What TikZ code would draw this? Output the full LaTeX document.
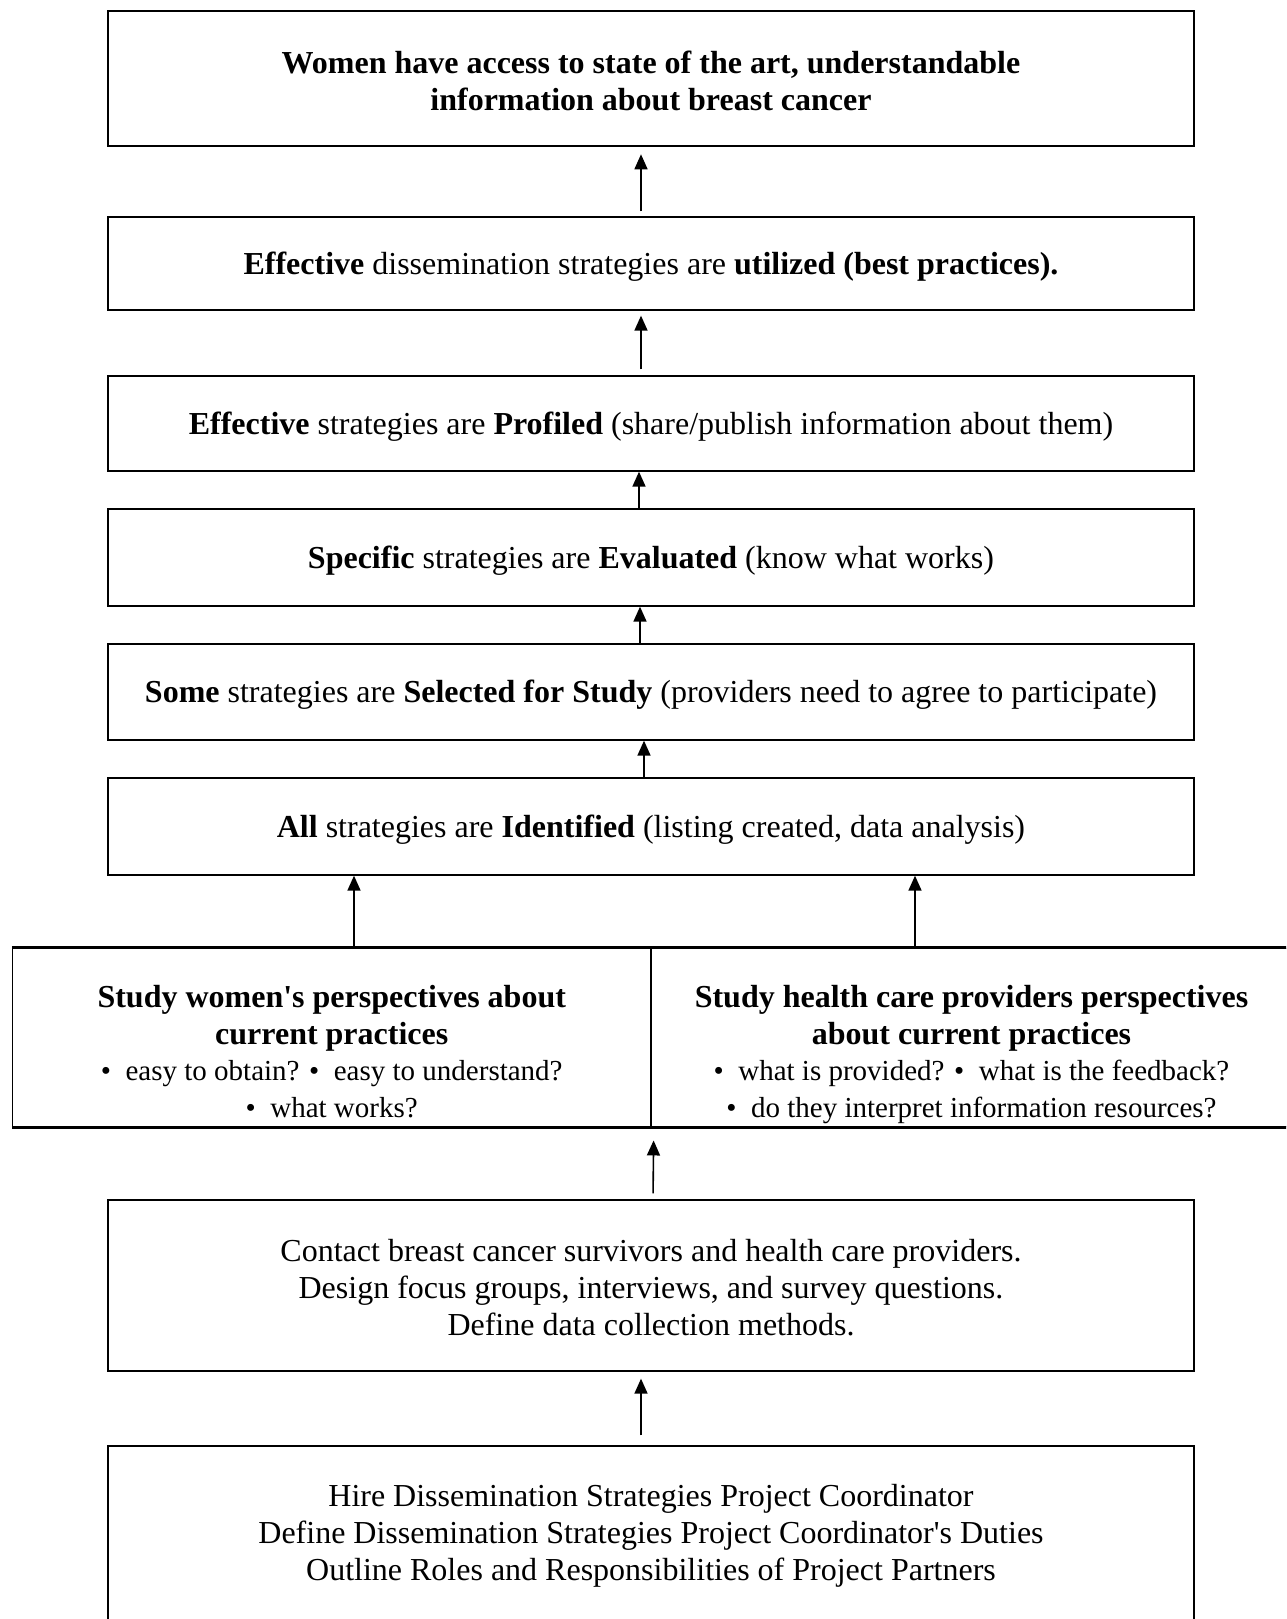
\documentclass[tikz,border=0pt]{standalone}
\usepackage{fontspec}
\setmainfont{Liberation Serif}
\usetikzlibrary{arrows.meta}
\newcommand{\bulletfont}{\fontsize{29}{36.8}\selectfont}
\begin{document}
\begin{tikzpicture}[x=1pt,y=-1pt,
  box/.style={draw, line width=1.3pt, minimum width=1086pt, align=center,
    inner sep=0pt, font=\fontsize{32}{36.8}\selectfont},
  oneline/.style={box, text height=26pt, text depth=5pt},
  topbox/.style={box, line width=2.6pt, font=\fontsize{32}{36.8}\selectfont\bfseries},
  halfbox/.style={box, line width=1.5pt},
  thickedge/.style={line width=2.4pt},
  arr/.style={line width=1.6pt, -{Triangle[length=15pt,width=13pt]}}]
\useasboundingbox (0,0) rectangle (1286,1619);
\clip (0,0) rectangle (1286,1619);
\fill[white] (0,0) rectangle (1286,1619);

\node[topbox, minimum height=135pt] (b1) at (651,78.5)
  {\rule{0pt}{27pt}Women have access to state of the art, understandable\\information about breast cancer};
\node[oneline, minimum height=93pt] (b2) at (651,263.5)
  {\textbf{Effective} dissemination strategies are \textbf{utilized (best practices).}};
\node[oneline, minimum height=95pt] (b3) at (651,423.5)
  {\textbf{Effective} strategies are \textbf{Profiled} (share/publish information about them)};
\node[oneline, minimum height=97pt] (b4) at (651,557.5)
  {\textbf{Specific} strategies are \textbf{Evaluated} (know what works)};
\node[oneline, minimum height=96pt] (b5) at (651,692)
  {\textbf{Some} strategies are \textbf{Selected for Study} (providers need to agree to participate)};
\node[oneline, minimum height=97pt] (b6) at (651,826.5)
  {\textbf{All} strategies are \textbf{Identified} (listing created, data analysis)};

\node[halfbox, minimum width=638.5pt, minimum height=173pt] (sl) at (331.75,1037.5)
  {\rule{0pt}{59pt}\textbf{Study women\textquotesingle s perspectives about}\\
   \textbf{current practices}\\
   {\bulletfont •\hspace{0.5em}easy to obtain? •\hspace{0.5em}easy to understand?}\\
   {\bulletfont •\hspace{0.5em}what works?\rule[-9pt]{0pt}{9pt}}};
\node[halfbox, minimum width=641pt, minimum height=173pt] (sr) at (971.5,1037.5)
  {\rule{0pt}{59pt}\textbf{Study health care providers perspectives}\\
   \textbf{about current practices}\\
   {\bulletfont •\hspace{0.5em}what is provided? •\hspace{0.5em}what is the feedback?}\\
   {\bulletfont •\hspace{0.5em}do they interpret information resources?\rule[-9pt]{0pt}{9pt}}};
\draw[thickedge] (sl.north west) -- (sr.north east);
\draw[thickedge] (sl.south west) -- (sr.south east);

\node[box, minimum height=171pt] (b8) at (651,1285.5)
  {\rule{0pt}{26pt}Contact breast cancer survivors and health care providers.\\
   Design focus groups, interviews, and survey questions.\\
   Define data collection methods.};
\node[box, minimum height=179pt] (b9) at (651,1535.5)
  {Hire Dissemination Strategies Project Coordinator\\
   Define Dissemination Strategies Project Coordinator\textquotesingle s Duties\\
   Outline Roles and Responsibilities of Project Partners};

\draw[arr, shorten <=5pt, shorten >=7pt] ([xshift=-10pt]b2.north) -- ([xshift=-10pt]b1.south);
\draw[arr, shorten <=6pt, shorten >=5pt] ([xshift=-10pt]b3.north) -- ([xshift=-10pt]b2.south);
\draw[arr] ([xshift=-12pt]b4.north) -- ([xshift=-12pt]b3.south);
\draw[arr] ([xshift=-11pt]b5.north) -- ([xshift=-11pt]b4.south);
\draw[arr] ([xshift=-7pt]b6.north) -- ([xshift=-7pt]b5.south);
\coordinate (la) at ([xshift=22.25pt]sl.north);
\coordinate (ra) at ([xshift=-56.5pt]sr.north);
\draw[arr] (la) -- (la |- b6.south);
\draw[arr] (ra) -- (ra |- b6.south);
\draw[arr, shorten <=6pt, shorten >=13pt] ([xshift=2pt]b8.north) -- ([xshift=2pt]sl.south east);
\draw[arr, shorten <=10pt, shorten >=7pt] ([xshift=-10pt]b9.north) -- ([xshift=-10pt]b8.south);
\end{tikzpicture}
\end{document}
